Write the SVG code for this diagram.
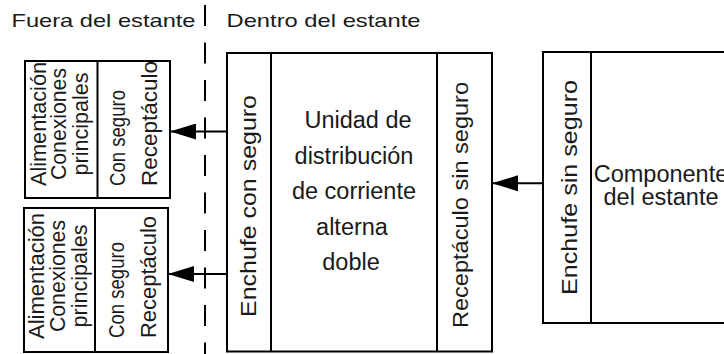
<svg xmlns="http://www.w3.org/2000/svg" width="724" height="354" viewBox="0 0 724 354">
<style>
  .box { fill: #fff; stroke: #000; stroke-width: 2; }
  .div { stroke: #000; stroke-width: 2; fill: none; }
  .t { font-family: "Liberation Sans", Arial, sans-serif; fill: #1a1a1a; }
  .lbl { font-size: 19px; }
  .v { font-size: 21.5px; }
  .c { font-size: 23.5px; text-anchor: middle; }
  .mid { text-anchor: middle; }
  .conn { stroke: #000; stroke-width: 2; fill: none; marker-end: url(#ah); }
</style>
<defs>
  <marker id="ah" markerUnits="userSpaceOnUse" viewBox="0 0 26 16" refX="26" refY="8" markerWidth="26" markerHeight="16" orient="auto">
    <path d="M0,0 L26,8 L0,16 Z" fill="#000"/>
  </marker>
</defs>
<rect width="724" height="354" fill="#fff"/>

<g id="labels">
  <text class="t lbl" x="11.5" y="26.5" textLength="184" lengthAdjust="spacingAndGlyphs">Fuera del estante</text>
  <text class="t lbl" x="226.5" y="27" textLength="194" lengthAdjust="spacingAndGlyphs">Dentro del estante</text>
</g>

<g id="boundary">
  <line x1="205" y1="5" x2="205" y2="354" stroke="#000" stroke-width="2" stroke-dasharray="21 16.5"/>
</g>

<g id="outlet-top">
  <rect class="box" x="25" y="61" width="145" height="137"/>
  <line class="div" x1="97.5" y1="61" x2="97.5" y2="198"/>
  <text class="t v mid" transform="translate(45.5,124) rotate(-90)" textLength="124" lengthAdjust="spacingAndGlyphs">Alimentación</text>
  <text class="t v mid" transform="translate(65.5,124) rotate(-90)" textLength="112" lengthAdjust="spacingAndGlyphs">Conexiones</text>
  <text class="t v mid" transform="translate(88,124) rotate(-90)" textLength="103" lengthAdjust="spacingAndGlyphs">principales</text>
  <text class="t v" transform="translate(125,186) rotate(-90)" textLength="96" lengthAdjust="spacingAndGlyphs">Con seguro</text>
  <text class="t v" transform="translate(157,186) rotate(-90)" textLength="125" lengthAdjust="spacingAndGlyphs">Receptáculo</text>
</g>

<g id="outlet-bottom">
  <rect class="box" x="24" y="208" width="144" height="144"/>
  <line class="div" x1="95" y1="208" x2="95" y2="352"/>
  <text class="t v mid" transform="translate(44,276) rotate(-90)" textLength="126" lengthAdjust="spacingAndGlyphs">Alimentación</text>
  <text class="t v mid" transform="translate(65,276) rotate(-90)" textLength="112" lengthAdjust="spacingAndGlyphs">Conexiones</text>
  <text class="t v mid" transform="translate(87,276) rotate(-90)" textLength="103" lengthAdjust="spacingAndGlyphs">principales</text>
  <text class="t v" transform="translate(124,338) rotate(-90)" textLength="96" lengthAdjust="spacingAndGlyphs">Con seguro</text>
  <text class="t v" transform="translate(155.5,338) rotate(-90)" textLength="122" lengthAdjust="spacingAndGlyphs">Receptáculo</text>
</g>

<g id="pdu">
  <rect class="box" x="227" y="53" width="265" height="298.5"/>
  <line class="div" x1="271" y1="53" x2="271" y2="351.5"/>
  <line class="div" x1="437" y1="53" x2="437" y2="351.5"/>
  <text class="t v mid" transform="translate(255.5,206) rotate(-90)" textLength="222" lengthAdjust="spacingAndGlyphs">Enchufe con seguro</text>
  <text class="t c" x="358" y="128">Unidad de</text>
  <text class="t c" x="354" y="163.5">distribución</text>
  <text class="t c" x="354" y="199">de corriente</text>
  <text class="t c" x="352" y="234.5">alterna</text>
  <text class="t c" x="351" y="270">doble</text>
  <text class="t v mid" transform="translate(468,205) rotate(-90)" textLength="246" lengthAdjust="spacingAndGlyphs">Receptáculo sin seguro</text>
</g>

<g id="rack-component">
  <rect class="box" x="543" y="52" width="200" height="271"/>
  <line class="div" x1="591" y1="52" x2="591" y2="323"/>
  <text class="t v mid" transform="translate(577,187.5) rotate(-90)" textLength="215" lengthAdjust="spacingAndGlyphs">Enchufe sin seguro</text>
  <text class="t c" x="661" y="181.5">Componente</text>
  <text class="t c" x="661" y="205">del estante</text>
</g>

<g id="connectors">
  <line class="conn" x1="227" y1="131.5" x2="170" y2="131.5"/>
  <line class="conn" x1="227" y1="274" x2="168" y2="274"/>
  <line class="conn" x1="543" y1="183.3" x2="492" y2="183.3"/>
</g>
</svg>
